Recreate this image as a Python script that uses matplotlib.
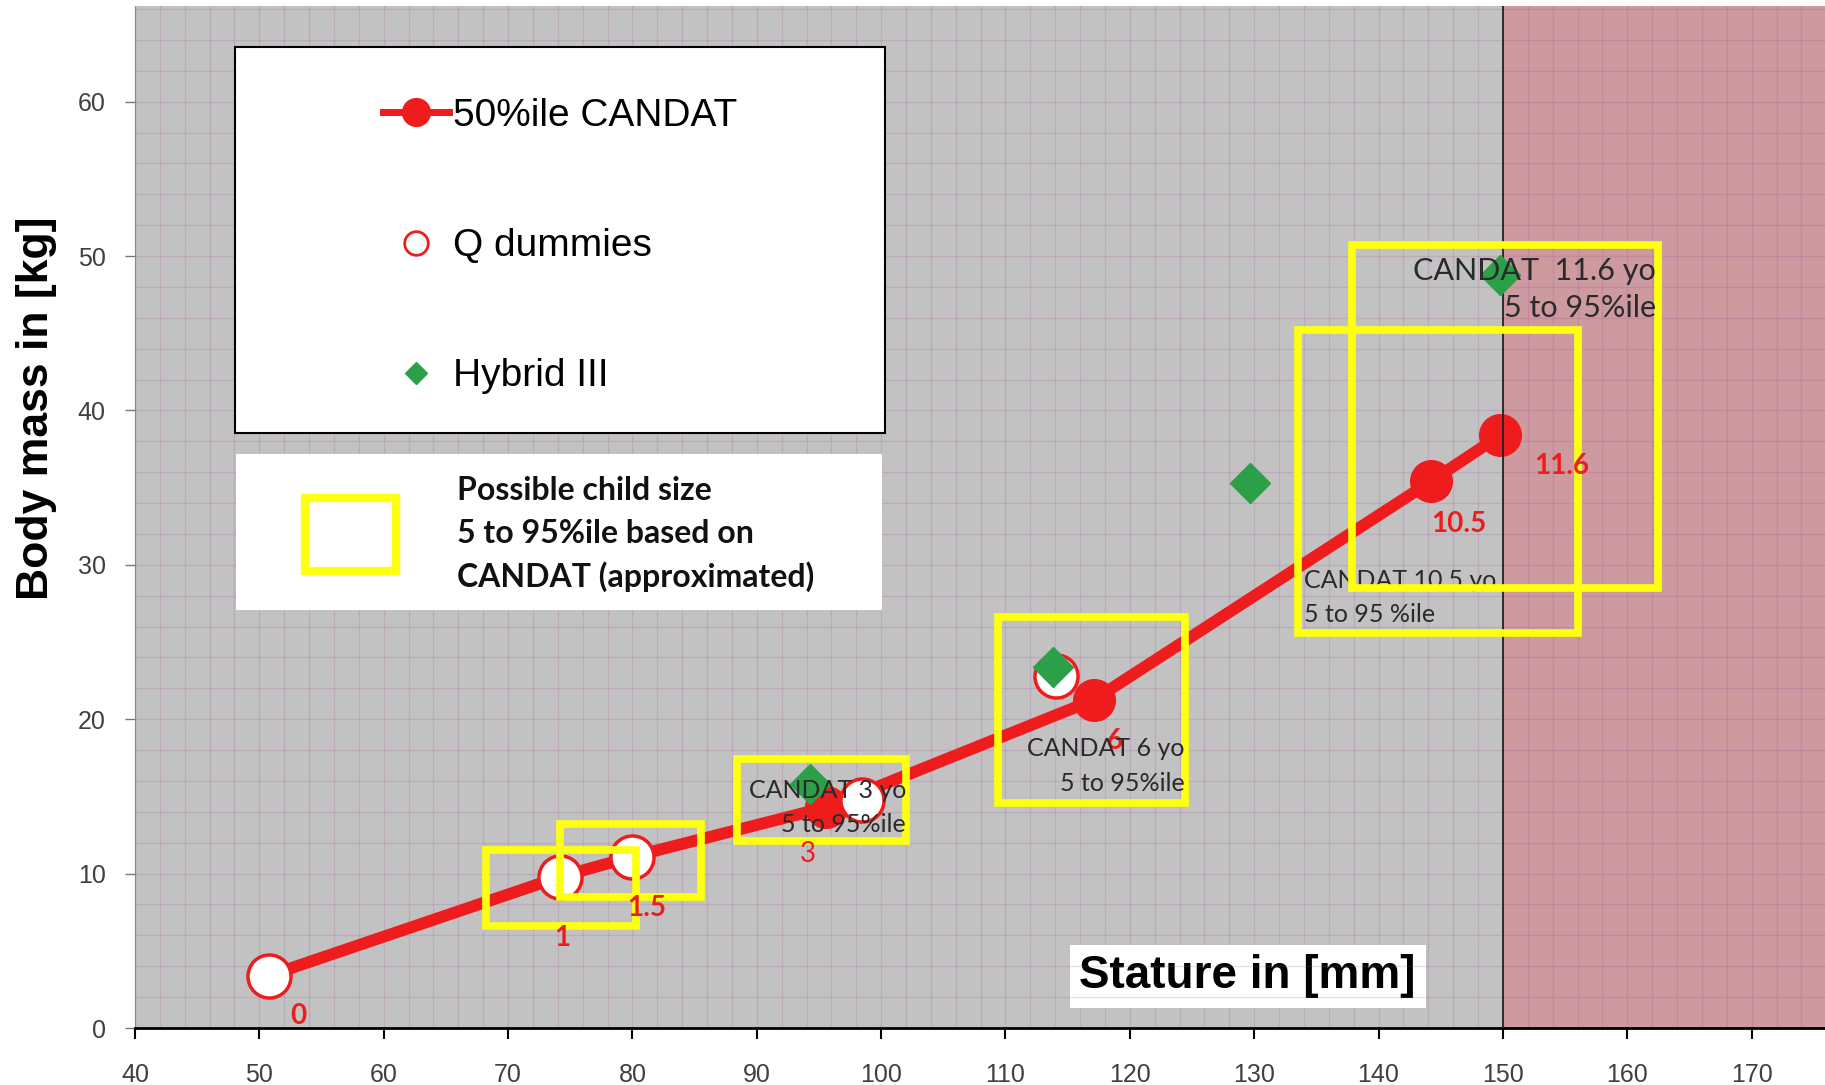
import matplotlib
matplotlib.use("Agg")
import matplotlib.pyplot as plt
from matplotlib.patches import Rectangle
from matplotlib.lines import Line2D

# CANDAT 50%ile (age in years, stature, mass)
candat_age = ["0", "1", "1.5", "3", "6", "10.5", "11.6"]
candat_stature = [50.8, 74.2, 80.0, 95.6, 117.1, 144.2, 149.8]
candat_mass = [3.4, 9.8, 11.1, 14.3, 21.25, 35.4, 38.4]

# Q dummies
q_stature = [50.8, 74.2, 80.0, 98.5, 114.1]
q_mass = [3.4, 9.8, 11.1, 14.8, 22.8]

# Hybrid III
h3_stature = [94.3, 113.8, 129.7, 149.8]
h3_mass = [15.8, 23.4, 35.3, 48.8]

# 5 to 95%ile boxes (stature range, mass range)
box_x0 = [68.2, 74.2, 88.4, 109.4, 133.5, 137.9]
box_x1 = [80.3, 85.5, 102.0, 124.4, 156.0, 162.5]
box_y0 = [6.6, 8.5, 12.1, 14.6, 25.6, 28.5]
box_y1 = [11.5, 13.2, 17.4, 26.6, 45.2, 50.7]

box_labels = ["CANDAT 3 yo\n5 to 95%ile", "CANDAT 6 yo\n5 to 95%ile",
              "CANDAT 10.5 yo\n5 to 95 %ile", "CANDAT  11.6 yo\n5 to 95%ile"]

RED = "#ee1c1c"
GREEN = "#2ca048"
YELLOW = "#ffff10"
narrow = ["Liberation Sans Narrow", "Liberation Sans"]

fig = plt.figure(figsize=(18.25, 10.85), dpi=100)
ax = fig.add_axes([135 / 1825, 57 / 1085, 1690 / 1825, 1022 / 1085])
ax.set_xlim(40, 175.9)
ax.set_ylim(0, 66.2)
ax.set_facecolor("#c3c2c3")
ax.axvspan(150, 175.9, color="#cd9a9f", zorder=0.1, lw=0)
ax.set_axisbelow(True)

# grid
ax.set_xticks(range(40, 171, 10))
ax.set_yticks(range(0, 61, 10))
ax.set_xticks(range(40, 176, 2), minor=True)
ax.set_yticks(range(0, 67, 2), minor=True)
ax.grid(True, which="both", color="#a050a0", alpha=0.2, lw=1.0)
ax.tick_params(which="minor", length=0)
ax.tick_params(axis="x", which="major", length=8, width=1.5, color="black", pad=17,
               labelsize=18, labelcolor="#404040")
ax.tick_params(axis="y", which="major", length=7, width=1, color="#777777", pad=14,
               labelsize=18, labelcolor="#404040")
for lab in ax.get_xticklabels() + ax.get_yticklabels():
    lab.set_family(narrow)
for s in ["top", "right"]:
    ax.spines[s].set_visible(False)
ax.spines["bottom"].set_linewidth(2)
ax.spines["left"].set_color("#888888")

ax.axvline(150, color="#222222", lw=1.3, zorder=4.5)

# data
ax.plot(candat_stature, candat_mass, "-o", color=RED, lw=8.5, ms=30, zorder=3)
ax.plot(q_stature, q_mass, "o", ms=31, mfc="white", mec=RED, mew=2.5, zorder=4)
ax.plot(h3_stature, h3_mass, "D", ms=20, color=GREEN, zorder=5)

for x0, x1, y0, y1 in zip(box_x0, box_x1, box_y0, box_y1):
    ax.add_patch(Rectangle((x0, y0), x1 - x0, y1 - y0, fill=False,
                           ec=YELLOW, lw=5.5, zorder=6))

# age labels
offs = [(29, -40), (2, -61), (14, -51), (-19, -47), (21, -41), (28, -43), (61, -31)]
for i, (a, x, y) in enumerate(zip(candat_age, candat_stature, candat_mass)):
    ax.annotate(a, (x, y), xytext=offs[i], textcoords="offset pixels",
                ha="center", va="center", color=RED, fontsize=20,
                family="Lato", fontweight="normal" if a == "3" else "bold", zorder=7)

# box annotations
txt = dict(fontsize=18, family="Lato", color="#2a2a2a", zorder=7, va="center", linespacing=1.6)
ax.text(box_x1[2], 14.3, box_labels[0], ha="right", multialignment="right", **txt)
ax.text(box_x1[3], 16.96, box_labels[1], ha="right", multialignment="right", **txt)
ax.text(134.0, 27.9, box_labels[2], ha="left", **dict(txt, zorder=5.5, linespacing=1.55))
ax.text(box_x1[5] - 0.2, 47.85, box_labels[3], ha="right", multialignment="right",
        **dict(txt, fontsize=22, linespacing=1.4))

# legend box 1
ax.add_patch(Rectangle((0.0592, 0.582), 0.3843, 0.378, transform=ax.transAxes,
                       fc="white", ec="black", lw=1.5, zorder=8))
handles = [
    Line2D([], [], color=RED, lw=5, marker="o", ms=20),
    Line2D([], [], ls="none", marker="o", ms=17, mfc="white", mec=RED, mew=2),
    Line2D([], [], ls="none", marker="D", ms=11, color=GREEN),
]
leg = ax.legend(handles, ["50%ile CANDAT", "Q dummies", "Hybrid III"],
                loc="upper left", bbox_to_anchor=(0.135, 0.929), frameon=False,
                prop={"family": narrow, "size": 28}, handlelength=1.7,
                handletextpad=0.1, labelspacing=2.42, borderpad=0)
leg.set_zorder(9)

# legend box 2
ax.add_patch(Rectangle((0.0599, 0.409), 0.3822, 0.1525, transform=ax.transAxes,
                       fc="white", ec="none", zorder=8))
ax.add_patch(Rectangle((0.1006, 0.4476), 0.0537, 0.0706, transform=ax.transAxes,
                       fill=False, ec=YELLOW, lw=6, zorder=9))
ax.text(0.1908, 0.483, "Possible child size\n5 to 95%ile based on\nCANDAT (approximated)",
        transform=ax.transAxes, ha="left", va="center", fontsize=23, family="Lato",
        fontweight="bold", color="#111111", linespacing=1.55, zorder=9)

# axis titles
ax.set_xlabel("Stature in [mm]", fontsize=33, fontweight="bold", family="Liberation Sans",
              bbox=dict(fc="white", ec="none", pad=7))
ax.xaxis.set_label_coords(0.6584, 0.072)
ax.set_ylabel("Body mass in [kg]", fontsize=32, fontweight="bold", family="Liberation Sans")
ax.yaxis.set_label_coords(-0.046, 0.606)

fig.savefig("out.png", dpi=100)
